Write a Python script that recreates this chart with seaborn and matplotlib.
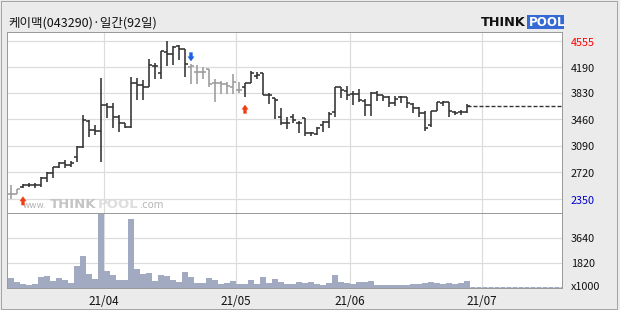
import numpy as np
import pandas as pd
import matplotlib
matplotlib.use("Agg")
import matplotlib.pyplot as plt
import matplotlib.transforms as mtransforms
from matplotlib.patches import Rectangle
import seaborn as sns

# ---------------- data ----------------
TITLE = "케이맥(043290)·일간(92일)"

opens = [2420, 2420, 2522, 2545, 2550, 2540, 2650, 2717, 2801, 2848,
         2825, 2941, 3080, 3440, 3313, 3304, 3662, 3630, 3499, 3406,
         3360, 3964, 3941, 3909, 4211, 4104, 4406, 4374, 4485, 4439,
         4190, 4127, 4118, 4160, 3974, 3965, 3960, 3909, 3871, 3918,
         3974, 4067, 4104, 3801, 3755, 3499, 3406, 3490, 3406, 3476,
         3276, 3262, 3380, 3420, 3569, 3909, 3862, 3811, 3815, 3722,
         3662, 3834, 3801, 3778, 3694, 3769, 3769, 3676, 3615, 3555,
         3383, 3578, 3694, 3699, 3570, 3560, 3560]
highs = [2545, 2490, 2559, 2569, 2569, 2662, 2731, 2801, 2871, 2894,
         2880, 3090, 3522, 3452, 3383, 4034, 3685, 3685, 3522, 3406,
         4057, 4034, 4010, 4299, 4243, 4420, 4555, 4490, 4499, 4439,
         4229, 4220, 4197, 4160, 4030, 4000, 3987, 4095, 3987, 3974,
         4136, 4127, 4104, 3825, 3755, 3615, 3490, 3536, 3443, 3476,
         3290, 3360, 3440, 3560, 3918, 3918, 3927, 3862, 3881, 3741,
         3848, 3862, 3805, 3787, 3787, 3787, 3778, 3685, 3639, 3578,
         3578, 3708, 3722, 3699, 3578, 3592, 3671]
lows = [2350, 2415, 2499, 2513, 2499, 2522, 2592, 2638, 2778, 2778,
        2801, 2871, 3057, 3220, 3243, 2871, 3476, 3336, 3290, 3336,
        3336, 3732, 3732, 3909, 4030, 4020, 4206, 4220, 4290, 4057,
        3950, 3955, 4020, 3909, 3708, 3815, 3815, 3815, 3834, 3778,
        3964, 4020, 3801, 3676, 3462, 3383, 3322, 3406, 3267, 3229,
        3234, 3250, 3280, 3340, 3499, 3755, 3732, 3662, 3708, 3508,
        3508, 3722, 3722, 3639, 3648, 3694, 3615, 3555, 3490, 3304,
        3350, 3578, 3648, 3490, 3522, 3522, 3555]
closes = [2420, 2485, 2545, 2550, 2545, 2640, 2717, 2792, 2848, 2825,
          2857, 3080, 3452, 3313, 3304, 3662, 3630, 3499, 3406, 3360,
          3974, 3941, 3909, 4220, 4211, 4420, 4374, 4476, 4439, 4229,
          4205, 4118, 4118, 3955, 3965, 3960, 3930, 3987, 3871, 3964,
          4113, 4076, 3801, 3801, 3732, 3406, 3406, 3452, 3406, 3276,
          3276, 3336, 3425, 3530, 3909, 3871, 3801, 3815, 3732, 3662,
          3834, 3801, 3778, 3694, 3741, 3769, 3685, 3615, 3555, 3336,
          3578, 3699, 3699, 3578, 3550, 3560, 3648]
volumes = [680, 413, 267, 194, 267, 752, 849, 485, 704, 558,
           340, 1578, 2306, 995, 631, 5364, 1214, 922, 558, 558,
           5000, 1359, 995, 1068, 485, 898, 849, 558, 413, 1141,
           752, 316, 340, 680, 558, 291, 340, 485, 291, 291,
           558, 291, 777, 340, 607, 413, 267, 300, 380, 364,
           413, 267, 194, 340, 922, 388, 316, 267, 413, 437,
           485, 194, 194, 170, 194, 194, 194, 243, 267, 316,
           388, 364, 243, 316, 243, 316, 485]  # x1000 shares

buy_signals = [2, 39]
sell_signals = [30]

price_ticks = [4555, 4190, 3830, 3460, 3090, 2720, 2350]
volume_ticks = [3640, 1820]
volume_top = 5460
month_labels = ["21/04", "21/05", "21/06", "21/07"]
month_first_day = [16, 38, 57, 79]   # index of first trading day of month

# ---------------- style ----------------
sns.set_style("white")
plt.rcParams['font.family'] = ['Noto Sans CJK KR', 'DejaVu Sans']
plt.rcParams['lines.scale_dashes'] = False

W, H, DPI = 620, 310, 100
PX = 72 / DPI
fig = plt.figure(figsize=(W / DPI, H / DPI), dpi=DPI)
fig.patch.set_facecolor('#ebebeb')


def fx(px):
    return px / W


def fy(py):
    return 1 - py / H


LEFT, RIGHT = 7, 562
TOP, MID, BOT = 32, 212.7, 287.7
ax_p = fig.add_axes([fx(LEFT), fy(MID), fx(RIGHT) - fx(LEFT), fy(TOP) - fy(MID)])
ax_v = fig.add_axes([fx(LEFT), fy(BOT), fx(RIGHT) - fx(LEFT), fy(MID) - fy(BOT)])

n = len(closes)
idx = np.arange(n)
FIRST_PX, STEP_PX = 11, 6
xlim = ((LEFT - FIRST_PX) / STEP_PX, (RIGHT - FIRST_PX) / STEP_PX)

pmax, pmin = max(price_ticks), min(price_ticks)
ppx = (pmax - pmin) / (199 - 41)
ylim_p = (pmin - (MID - 199) * ppx, pmax + (41 - TOP) * ppx)

GRID = '#dcdcdc'
SPINE = '#9a9a9a'
BLACK = '#333333'
GRAY = '#9c9c9c'
VOLC = '#a2aac2'

for ax in (ax_p, ax_v):
    ax.set_facecolor('white')
    for s in ax.spines.values():
        s.set_color(SPINE)
        s.set_linewidth(1 * PX)
        s.set_visible(True)
    ax.tick_params(left=False, bottom=False, labelleft=False, labelbottom=False)

# grid
for t in price_ticks:
    ax_p.axhline(t, color=GRID, lw=1.2 * PX, zorder=0)
for t in volume_ticks:
    ax_v.axhline(t, color=GRID, lw=1.2 * PX, zorder=0)
for m in month_first_day:
    ax_p.axvline(m - 0.5, color=GRID, lw=1.2 * PX, zorder=0)
    ax_v.axvline(m - 0.5, color=GRID, lw=1.2 * PX, zorder=0)

# bar colours from signals
colors = []
state = False
for i in range(n):
    if i in buy_signals:
        state = True
    if i in sell_signals:
        state = False
    colors.append(BLACK if state else GRAY)

# watermark
trans_fig = fig.transFigure
ax_p.text(fx(23), fy(208), "www.", transform=trans_fig, fontsize=6.4,
          color='#b5b5b5', family='DejaVu Sans', zorder=0.5)
ax_p.text(fx(50), fy(208), "THINK", transform=trans_fig, fontsize=9.5,
          color='#c4c4c4', family='DejaVu Sans', weight='bold', zorder=0.5)
ax_p.text(fx(97.5), fy(208), "POOL", transform=trans_fig, fontsize=9.5,
          color='#dedede', family='DejaVu Sans', weight='bold', zorder=0.5)
ax_p.text(fx(139.5), fy(208), ".com", transform=trans_fig, fontsize=7.2,
          color='#b5b5b5', family='DejaVu Sans', zorder=0.5)

# OHLC bars
LW = 1.6 * PX
ax_p.vlines(idx, lows, highs, colors=colors, lw=LW, zorder=3)
ax_p.hlines(opens, idx - 0.5, idx, colors=colors, lw=LW, zorder=3)
ax_p.hlines(closes, idx, idx + 0.5, colors=colors, lw=LW, zorder=3)
ax_p.plot([idx[-1], xlim[1]], [closes[-1], closes[-1]], color=BLACK,
          lw=1.4 * PX, dashes=(4 * PX, 2 * PX), zorder=3)

# signal arrows
for i in buy_signals:
    tip = lows[i] - 8 * ppx
    ax_p.annotate('', xy=(i, tip), xytext=(i, tip - 9 * ppx),
                  arrowprops=dict(arrowstyle='simple,head_length=0.35,head_width=0.5,tail_width=0.24',
                                  fc='#f23c12', ec='none', shrinkA=0, shrinkB=0,
                                  mutation_scale=10), annotation_clip=False, zorder=4)
for i in sell_signals:
    tip = highs[i] + 3 * ppx
    ax_p.annotate('', xy=(i, tip), xytext=(i, tip + 9 * ppx),
                  arrowprops=dict(arrowstyle='simple,head_length=0.35,head_width=0.5,tail_width=0.24',
                                  fc='#1c5fe3', ec='none', shrinkA=0, shrinkB=0,
                                  mutation_scale=10), annotation_clip=False, zorder=4)

ax_p.set_xlim(xlim)
ax_p.set_ylim(ylim_p)

# volume bars
df = pd.DataFrame({'day': idx, 'volume': volumes})
sns.barplot(data=df, x='day', y='volume', native_scale=True, width=0.84,
            color=VOLC, saturation=1, errorbar=None, linewidth=0, ax=ax_v, zorder=2)
ax_v.plot([idx[-1] + 0.5, xlim[1]], [0, 0], color=VOLC, lw=3 * PX,
          dashes=(5 * PX, 1 * PX), zorder=2)
ax_v.set_xlim(xlim)
ax_v.set_ylim(0, volume_top)
ax_v.set_xlabel('')
ax_v.set_ylabel('')
ax_v.set_xticks([])
ax_v.set_yticks([])

# right-hand labels
tp = mtransforms.offset_copy(mtransforms.blended_transform_factory(trans_fig, ax_p.transData),
                             fig=fig, y=-4.5, units='dots')
for t in price_ticks:
    c = '#ff0000' if t == pmax else ('#0000cc' if t == pmin else '#111111')
    fig.text(fx(571), t, str(t), transform=tp, fontsize=7.8, color=c,
             ha='left', va='baseline')
tv = mtransforms.offset_copy(mtransforms.blended_transform_factory(trans_fig, ax_v.transData),
                             fig=fig, y=-4.5, units='dots')
for t in volume_ticks:
    fig.text(fx(571), t, str(t), transform=tv, fontsize=7.8, color='#111111',
             ha='left', va='baseline')
tv0 = mtransforms.offset_copy(mtransforms.blended_transform_factory(trans_fig, ax_v.transData),
                              fig=fig, y=-2.5, units='dots')
fig.text(fx(571), 0, "x1000", transform=tv0, fontsize=7.8, color='#111111',
         ha='left', va='baseline')

# month labels
tx = mtransforms.blended_transform_factory(ax_v.transData, trans_fig)
for m, lab in zip(month_first_day, month_labels):
    fig.text(m - 0.5, fy(305), lab, transform=tx, fontsize=8.4, color='#111111',
             ha='center', va='baseline')

# title
fig.text(fx(8), fy(26.5), TITLE, fontsize=9, color='#111111', ha='left', va='baseline')

# logo
fig.text(fx(481), fy(26.5), "THINK", fontsize=9.3, color='#111111',
         family='DejaVu Sans', weight='bold', ha='left', va='baseline')
fig.patches.append(Rectangle((fx(527), fy(28.5)), fx(564) - fx(527), (28.5 - 15.5) / H,
                             transform=trans_fig, facecolor='#3569d4', edgecolor='none'))
fig.text(fx(528.5), fy(26.5), "POOL", fontsize=8.6, color='white',
         family='DejaVu Sans', weight='bold', ha='left', va='baseline')

# outer frame
fig.patches.append(Rectangle((fx(1), fy(308.5)), fx(617) - fx(1), (308.5 - 0.5) / H,
                             transform=trans_fig, facecolor='none', edgecolor='#a5a5a5',
                             lw=1 * PX))

fig.savefig("out.png", dpi=DPI, facecolor=fig.get_facecolor())
